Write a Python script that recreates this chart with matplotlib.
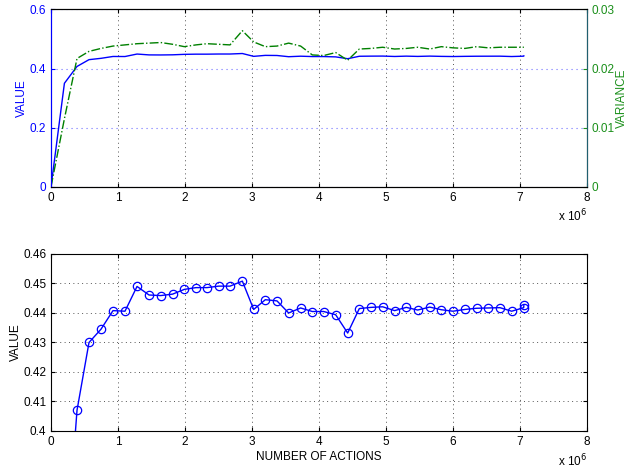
import numpy as np
import matplotlib
matplotlib.use("Agg")
import matplotlib.pyplot as plt

# --- data (x in millions of actions) ---
actions = [0.0, 0.2, 0.388, 0.567, 0.746, 0.925, 1.104, 1.284, 1.463, 1.637,
           1.816, 1.99, 2.164, 2.328, 2.502, 2.672, 2.856, 3.025, 3.199, 3.373,
           3.547, 3.726, 3.900, 4.07, 4.249, 4.428, 4.602, 4.776, 4.950, 5.129,
           5.303, 5.473, 5.652, 5.826, 6.0, 6.179, 6.353, 6.527, 6.701, 6.876,
           7.055, 7.058]
value = [0.0, 0.350, 0.4070, 0.4300, 0.4345, 0.4408, 0.4406, 0.4490, 0.4461, 0.4459,
         0.4464, 0.4480, 0.4486, 0.4486, 0.4491, 0.4491, 0.4508, 0.4412, 0.4445, 0.4441,
         0.4400, 0.4417, 0.4405, 0.4405, 0.4394, 0.4332, 0.4415, 0.4419, 0.4421, 0.4408,
         0.4419, 0.4410, 0.4420, 0.4411, 0.4406, 0.4412, 0.4416, 0.4417, 0.4418, 0.4406,
         0.4418, 0.4427]
variance = [0.0, 0.0115, 0.0217, 0.0229, 0.0234, 0.0238, 0.0240, 0.0242, 0.0243, 0.0244,
            0.0241, 0.0237, 0.0240, 0.0242, 0.0241, 0.0240, 0.0264, 0.0245, 0.0237, 0.0238,
            0.0243, 0.0238, 0.0223, 0.0222, 0.0227, 0.0214, 0.0233, 0.0234, 0.0236, 0.0233,
            0.0234, 0.0236, 0.0233, 0.0237, 0.0235, 0.0234, 0.0237, 0.0235, 0.0236, 0.0236,
            0.0236, 0.0236]
x_ticks = [0, 1, 2, 3, 4, 5, 6, 7, 8]
val_ticks_top = [0, 0.2, 0.4, 0.6]
var_ticks = [0, 0.01, 0.02, 0.03]
val_ticks_bottom = [0.4, 0.41, 0.42, 0.43, 0.44, 0.45, 0.46]

plt.rcParams['font.family'] = ['Liberation Sans', 'DejaVu Sans']
plt.rcParams['font.size'] = 8

BLUE = '#0000ff'
GREEN = '#008000'
GREEN_TXT = '#1a8f1a'
DOT = (0, (1, 3.5))

fig = plt.figure(figsize=(6.29, 4.72), dpi=100)

# --- top: value and variance on twin axes ---
ax1 = fig.add_axes([0.0811, 0.6045, 0.8521, 0.3755])
ax2 = ax1.twinx()
ax1.plot(actions, value, color=BLUE, lw=1.0)
ax2.plot(actions, variance, color=GREEN, lw=1.0, ls='-.')

ax1.set_xlim(0, 8)
ax1.set_ylim(0, 0.6)
ax2.set_ylim(0, 0.03)
ax1.set_xticks(x_ticks)
ax1.set_yticks(val_ticks_top)
ax1.set_yticklabels(['0', '0.2', '0.4', '0.6'])
ax2.set_yticks(var_ticks)
ax2.set_yticklabels(['0', '0.01', '0.02', '0.03'])

ax1.xaxis.grid(True, color='#555555', ls=DOT, lw=0.7)
ax1.yaxis.grid(True, color='#7070ff', ls=DOT, lw=0.8)
ax1.tick_params(axis='y', colors=BLUE, direction='in', length=3, labelsize=8.5)
ax1.tick_params(axis='x', direction='in', length=3, labelsize=8.5, top=True)
ax2.tick_params(axis='y', colors=GREEN_TXT, direction='in', length=3, labelsize=8.5)
ax1.spines['left'].set_color(BLUE)
ax2.spines['left'].set_color(BLUE)
ax2.spines['right'].set_color('#1f5f6f')
ax1.set_ylabel('VALUE', color=BLUE, fontsize=8.5, labelpad=1)
ax2.set_ylabel('VARIANCE', color=GREEN_TXT, fontsize=8.5, labelpad=1)
ax1.text(1.0, -0.12, r'x 10$^6$', transform=ax1.transAxes, ha='right', va='top', fontsize=8.5)

# --- bottom: value with markers ---
ax3 = fig.add_axes([0.0811, 0.0869, 0.8521, 0.375])
ax3.plot(actions, value, color=BLUE, lw=1.0, marker='o', mfc='none', ms=6, mew=0.9)
ax3.set_xlim(0, 8)
ax3.set_ylim(0.4, 0.46)
ax3.set_xticks(x_ticks)
ax3.set_yticks(val_ticks_bottom)
ax3.set_yticklabels(['0.4', '0.41', '0.42', '0.43', '0.44', '0.45', '0.46'])
ax3.grid(True, color='#555555', ls=DOT, lw=0.7)
ax3.tick_params(direction='in', length=3, labelsize=8.5, top=True, right=True)
ax3.set_xlabel('NUMBER OF ACTIONS', fontsize=8.5, labelpad=2)
ax3.set_ylabel('VALUE', fontsize=8.5, labelpad=1)
ax3.text(1.0, -0.12, r'x 10$^6$', transform=ax3.transAxes, ha='right', va='top', fontsize=8.5)

fig.savefig('out.png', dpi=100)
